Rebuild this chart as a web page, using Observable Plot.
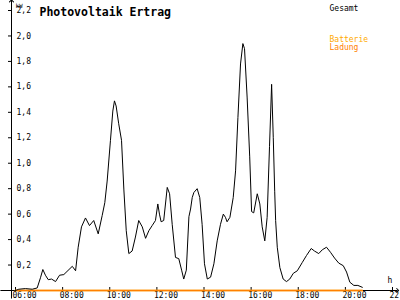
<!DOCTYPE html>
<html><head><meta charset="utf-8">
<script src="https://cdn.jsdelivr.net/npm/d3@7"></script>
<script src="https://cdn.jsdelivr.net/npm/@observablehq/plot@0.6"></script>
<style>body{margin:0;background:#fff}</style>
</head><body><div id="chart"></div>
<script>
// Hours of day (decimal) and total PV output (kW)
const times = [6.00,6.14,6.42,6.71,6.92,7.06,7.16,7.27,7.39,7.53,7.70,7.87,8.05,8.41,8.55,8.66,8.80,8.97,9.14,9.32,9.51,9.68,9.79,9.89,10.03,10.13,10.20,10.27,10.38,10.50,10.60,10.70,10.81,10.95,11.09,11.23,11.38,11.52,11.66,11.80,11.94,12.04,12.11,12.18,12.29,12.44,12.54,12.65,12.79,12.93,13.05,13.14,13.25,13.36,13.43,13.50,13.57,13.71,13.82,13.92,14.02,14.14,14.28,14.42,14.56,14.70,14.82,14.91,14.98,15.10,15.24,15.34,15.44,15.55,15.65,15.72,15.83,15.94,16.02,16.11,16.26,16.37,16.47,16.58,16.68,16.78,16.87,16.94,17.00,17.04,17.11,17.22,17.36,17.50,17.64,17.79,17.96,18.17,18.35,18.55,18.69,18.87,19.02,19.20,19.37,19.54,19.72,19.91,20.05,20.19,20.36,20.53,20.72];
const gesamt = [0.00,0.01,0.015,0.01,0.02,0.10,0.165,0.12,0.085,0.09,0.07,0.12,0.125,0.19,0.155,0.34,0.50,0.57,0.51,0.55,0.445,0.59,0.69,0.86,1.18,1.41,1.49,1.45,1.31,1.18,0.79,0.47,0.29,0.31,0.42,0.55,0.50,0.41,0.47,0.51,0.55,0.68,0.60,0.54,0.55,0.81,0.76,0.52,0.26,0.25,0.16,0.09,0.16,0.58,0.64,0.73,0.77,0.80,0.73,0.52,0.21,0.09,0.105,0.21,0.39,0.52,0.60,0.575,0.54,0.575,0.73,0.94,1.36,1.78,1.94,1.90,1.52,1.05,0.62,0.61,0.76,0.68,0.50,0.39,0.575,1.13,1.62,1.20,0.78,0.55,0.34,0.18,0.09,0.07,0.09,0.135,0.155,0.22,0.275,0.33,0.31,0.29,0.32,0.34,0.30,0.255,0.215,0.195,0.145,0.065,0.04,0.04,0.025];
// Battery series (flat at zero over the recorded range)
const batTimes = [6.00, 20.72];
const batterie = [0, 0];
const ladung = [0, 0];
// Axes
const xTicks = [6, 8, 10, 12, 14, 16, 18, 20, 22];
const xTickLabels = ["06:00","08:00","10:00","12:00","14:00","16:00","18:00","20:00","22:00"];
const yTicks = [0.2,0.4,0.6,0.8,1.0,1.2,1.4,1.6,1.8,2.0,2.2];
const yTickLabels = ["0,2","0,4","0,6","0,8","1,0","1,2","1,4","1,6","1,8","2,0","2,2"];
const titleText = "Photovoltaik Ertrag";
const legendNames = ["Gesamt", "Batterie", "Ladung"];
const legendColors = ["black", "#ffaa00", "#ff8000"];
const yUnit = "kW";
const xUnit = "h";

const gesData = times.map((t, i) => ({t, v: gesamt[i]}));
const batData = batTimes.map((t, i) => ({t, v: batterie[i]}));
const ladData = batTimes.map((t, i) => ({t, v: ladung[i]}));

const chart = Plot.plot({
  width: 400, height: 300,
  marginLeft: 15, marginRight: 8, marginTop: 10, marginBottom: 10,
  x: {domain: [6, 22], axis: null},
  y: {domain: [0, 2.2], axis: null},
  style: {fontFamily: "'DejaVu Sans Mono', monospace", fontSize: "8px", background: "white", color: "black"},
  marks: [
    // y axis line with arrow
    Plot.link([0], {x1: () => 6, x2: () => 6, y1: () => -0.063, y2: () => 2.275, dx: -4, stroke: "black", strokeWidth: 1, markerEnd: "arrow"}),
    // x axis line with arrow
    Plot.link([0], {x1: () => 5.36, x2: () => 22.22, y1: () => 0, y2: () => 0, stroke: "black", strokeWidth: 1, markerEnd: "arrow"}),
    // y ticks
    Plot.ruleY(yTicks, {stroke: "black", insetRight: 373, dx: -7}),
    // x ticks
    Plot.ruleX(xTicks, {stroke: "black", insetTop: 277, insetBottom: -2}),
    Plot.text(yTicks, {y: d => d, text: (d, i) => yTickLabels[i], frameAnchor: "left", dx: 1, textAnchor: "start", fill: "black"}),
    Plot.text(xTicks, {x: d => d, text: (d, i) => xTickLabels[i], frameAnchor: "bottom", dy: 7, dx: -3, textAnchor: "start", fill: "black"}),
    // series
    Plot.line(batData, {x: "t", y: "v", stroke: legendColors[1], strokeWidth: 1.5}),
    Plot.line(ladData, {x: "t", y: "v", stroke: legendColors[2], strokeWidth: 1.5}),
    Plot.line(gesData, {x: "t", y: "v", stroke: "black", strokeWidth: 1}),
    // units
    Plot.text([yUnit], {text: d => d, frameAnchor: "top-left", dx: 0, dy: -6.5, fontSize: 6, textAnchor: "start", fill: "black"}),
    Plot.text([xUnit], {text: d => d, frameAnchor: "bottom-right", dx: -5, dy: -8, fontSize: 8, textAnchor: "start", fill: "black"}),
    // title
    Plot.text([titleText], {text: d => d, frameAnchor: "top-left", dx: 24, dy: -3, fontSize: 11.5, fontWeight: "bold", textAnchor: "start", fill: "black"}),
    // legend
    Plot.text([legendNames[0]], {text: d => d, frameAnchor: "top-left", dx: 314, dy: -5.5, textAnchor: "start", fill: legendColors[0]}),
    Plot.text([legendNames[1]], {text: d => d, frameAnchor: "top-left", dx: 314, dy: 25.5, textAnchor: "start", fill: legendColors[1]}),
    Plot.text([legendNames[2]], {text: d => d, frameAnchor: "top-left", dx: 314, dy: 33.5, textAnchor: "start", fill: legendColors[2]})
  ]
});
document.getElementById("chart").appendChild(chart);
</script>
</body></html>
